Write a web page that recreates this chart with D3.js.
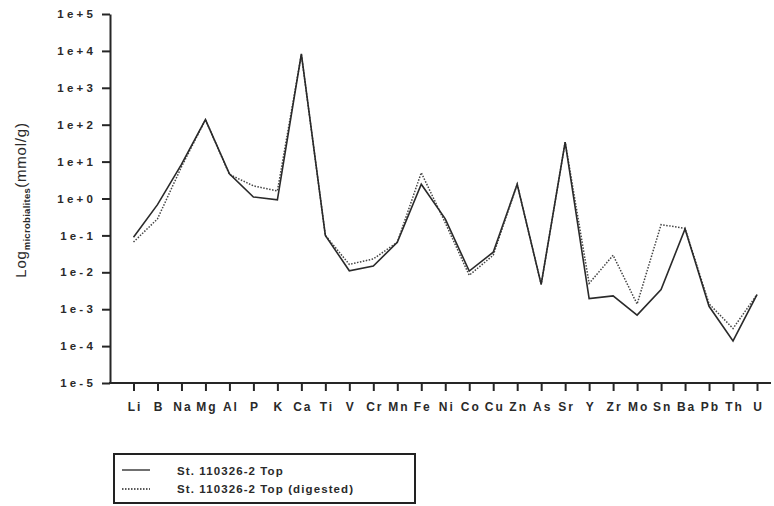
<!DOCTYPE html>
<html><head><meta charset="utf-8">
<script src="https://cdn.jsdelivr.net/npm/d3@7"></script>
<style>
body{margin:0;background:#fff;}
svg text{font-family:"Liberation Sans",Arial,sans-serif;fill:#2a2a2a;}
</style></head>
<body><svg id="c" width="774" height="506"></svg>
<script>
const elements = ["Li","B","Na","Mg","Al","P","K","Ca","Ti","V","Cr","Mn","Fe","Ni","Co","Cu","Zn","As","Sr","Y","Zr","Mo","Sn","Ba","Pb","Th","U"];
const topValues = [0.089,0.68,8.4,137,4.7,1.1,0.92,8300,0.1,0.011,0.0148,0.065,2.44,0.28,0.0108,0.035,2.44,0.0047,33.6,0.00195,0.0023,0.00069,0.0034,0.15,0.0012,0.000138,0.0025];
const digestedValues = [0.066,0.28,7.2,137,4.5,2.2,1.6,8000,0.1,0.0164,0.023,0.065,5.0,0.22,0.0083,0.029,2.44,0.0047,33.6,0.005,0.029,0.00138,0.196,0.155,0.0014,0.0003,0.0025];
const yTicks = [1e5,1e4,1e3,1e2,1e1,1e0,1e-1,1e-2,1e-3,1e-4,1e-5];
const yTickLabels = ["1e+5","1e+4","1e+3","1e+2","1e+1","1e+0","1e-1","1e-2","1e-3","1e-4","1e-5"];
const seriesNames = ["St. 110326-2 Top","St. 110326-2 Top (digested)"];

const svg = d3.select("#c");
const x = d3.scalePoint().domain(elements).range([133.5,757]);
const y = d3.scaleLog().domain([1e-5,1e5]).range([383,14]);
const axisColor = "#262626";
const ff = "Liberation Sans, Arial, sans-serif";

// y axis
const ya = svg.append("g").attr("transform","translate(110,0)")
  .call(d3.axisLeft(y).tickValues(yTicks).tickFormat((d,i)=>yTickLabels[i]).tickSize(8).tickSizeOuter(0));
ya.select(".domain").attr("stroke",axisColor).attr("stroke-width",2);
ya.selectAll(".tick line").attr("stroke",axisColor).attr("stroke-width",2);
ya.selectAll(".tick text").attr("font-size",11.5).attr("font-weight","bold").attr("letter-spacing","3.2px").attr("x",-14)
  .style("font-family",ff).attr("fill","#2a2a2a");

// x axis
const xa = svg.append("g").attr("transform","translate(0,383)")
  .call(d3.axisBottom(x).tickSize(8).tickSizeOuter(0));
xa.select(".domain").attr("d","M109,0H771").attr("stroke",axisColor).attr("stroke-width",2);
xa.selectAll(".tick line").attr("stroke",axisColor).attr("stroke-width",2);
xa.selectAll(".tick text").attr("font-size",12).attr("font-weight","bold").attr("y",19).attr("dx","1px").attr("letter-spacing","2px")
  .style("font-family",ff).attr("fill","#2a2a2a");

// y title
const yt = svg.append("text").attr("transform","translate(26,200) rotate(-90)").attr("text-anchor","middle")
  .attr("font-size",15).attr("letter-spacing","0.8px");
yt.append("tspan").text("Log");
yt.append("tspan").attr("font-size",9.5).attr("font-weight","bold").attr("letter-spacing","0.3px").attr("dy",4).text("microbialites");
yt.append("tspan").attr("dy",-4).text("(mmol/g)");

// lines
const line = d3.line().x((d,i)=>x(elements[i])).y(d=>y(d));
svg.append("path").datum(digestedValues).attr("d",line).attr("fill","none").attr("stroke","#444").attr("stroke-width",1.5).attr("stroke-dasharray","1.5,1.5");
svg.append("path").datum(topValues).attr("d",line).attr("fill","none").attr("stroke","#2a2a2a").attr("stroke-width",1.6);

// legend
const lg = svg.append("g");
lg.append("rect").attr("x",114).attr("y",454).attr("width",301).attr("height",49).attr("fill","#fff").attr("stroke","#222").attr("stroke-width",2);
const rows = [475,493];
lg.append("line").attr("x1",122).attr("x2",150).attr("y1",rows[0]-5).attr("y2",rows[0]-5).attr("stroke","#222").attr("stroke-width",1.3);
lg.append("line").attr("x1",122).attr("x2",150).attr("y1",rows[1]-4).attr("y2",rows[1]-4).attr("stroke","#222").attr("stroke-width",1.5).attr("stroke-dasharray","1.5,1.5");
seriesNames.forEach((n,i)=>{
  lg.append("text").attr("x",177).attr("y",rows[i]).attr("font-size",11.5).attr("font-weight","bold").attr("letter-spacing","1.1px").text(n);
});
</script></body></html>
